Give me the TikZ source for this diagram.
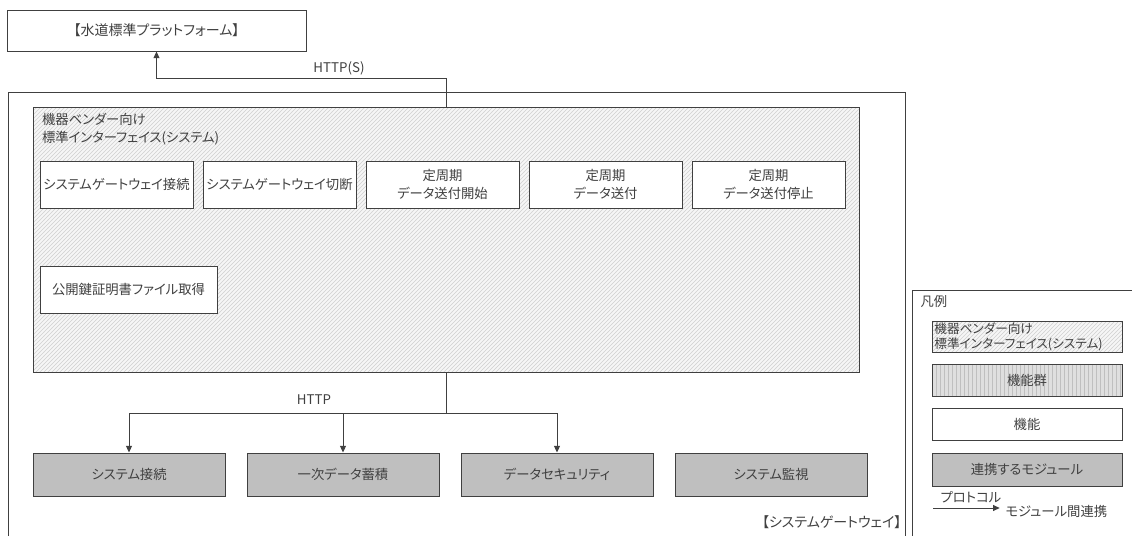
\documentclass[tikz,border=0pt]{standalone}
\usepackage{fontspec}
\setmainfont{Noto Sans CJK JP}[RawFeature=+palt]
\usepackage{tikz}
\usetikzlibrary{positioning, arrows.meta, patterns}
\usepackage{xcolor}
\definecolor{lineC}{RGB}{64, 64, 64}
\definecolor{modC}{RGB}{191, 191, 191}
\definecolor{hatchC}{RGB}{208, 208, 208}

\tikzset{
  func/.style={draw, fill=white, minimum width=114.75pt, minimum height=35.25pt, inner sep=1pt, align=center},
  modbox/.style={draw, fill=modC, minimum width=144pt, minimum height=32.25pt, inner sep=1pt},
  grpbox/.style={draw, preaction={fill=gray!7}, pattern=north east lines, pattern color=hatchC},
  funcgrp/.style={draw, preaction={fill=gray!25}, pattern=vertical lines, pattern color=gray!50},
  legbox/.style={minimum width=142.5pt, minimum height=24pt, inner sep=1pt},
  arr/.style={->, line width=0.75pt}
}

\begin{document}
\begin{tikzpicture}[x=0.75pt, y=-0.75pt, >={Triangle[length=5pt, width=4.5pt]},
    font=\fontsize{10}{13.5}\selectfont, color=lineC, line width=0.75pt]
  \useasboundingbox (0,0) rectangle (1132,536);

  % Platform
  \node[draw, minimum width=224.25pt, minimum height=30.75pt, font=\fontsize{10.5}{12}\selectfont]
    (plat) at (156.5,30.5) {【水道標準プラットフォーム】};

  % System gateway frame
  \draw (8,536) -- (8,92) -- (905,92) -- (905,536);
  \node[anchor=east, inner sep=0pt, font=\fontsize{10.5}{12}\selectfont] (gwlabel) at (902,522) {【システムゲートウェイ】};

  % Interface group
  \node[grpbox, minimum width=619.5pt, minimum height=198.75pt] (grp) at (446,239.5) {};
  \node[anchor=north west, align=left, inner sep=0pt] (grptitle)
    at ([xshift=6.75pt, yshift=-4.5pt]grp.north west) {機器ベンダー向け\\標準インターフェイス(システム)};

  % Functions
  \node[func] (f1) at (116.5,184.5) {システムゲートウェイ接続};
  \node[func, right=6.75pt of f1] (f2) {システムゲートウェイ切断};
  \node[func, right=6.75pt of f2] (f3) {定周期\\データ送付開始};
  \node[func, right=6.75pt of f3] (f4) {定周期\\データ送付};
  \node[func, right=6.75pt of f4] (f5) {定周期\\データ送付停止};
  \node[func, minimum width=132.75pt] (f6) at (128.5,289.5) {公開鍵証明書ファイル取得};

  % Modules
  \node[modbox] (m1) at (129,474.5) {システム接続};
  \node[modbox, right=15.75pt of m1] (m2) {一次データ蓄積};
  \node[modbox, right=15.75pt of m2] (m3) {データセキュリティ};
  \node[modbox, right=15.75pt of m3] (m4) {システム監視};

  % Connections
  \draw[arr] (grp.north) -- ++(0,-28) -| (plat.south);
  \node (https) at (339,68) {HTTP(S)};

  \draw (grp.south) -- ++(0,41) coordinate (bus);
  \draw[arr] (bus) -| (m1.north);
  \draw[arr] (bus) -| (m2.north);
  \draw[arr] (bus) -| (m3.north);
  \node (http) at (314,400) {HTTP};

  % Legend
  \draw (1132,290) -- (912,290) -- (912,536);
  \node[anchor=west, inner sep=0pt] (legtitle) at (920,301) {凡例};
  \node[legbox, grpbox, minimum height=23.25pt, text width=139pt, align=left,
    font=\fontsize{9.5}{11.25}\selectfont] (leg1) at (1027,336.5) {機器ベンダー向け\\標準インターフェイス(システム)};
  \node[legbox, funcgrp] (leg2) at (1027,380) {機能群};
  \node[legbox, draw, fill=white] (leg3) at (1027,424) {機能};
  \node[legbox, draw, fill=modC, minimum height=24.75pt] (leg4) at (1027,469.5) {連携するモジュール};
  \coordinate (lega) at (933,508);
  \node[anchor=west, inner sep=0pt] (leglink) at (1005,511) {モジュール間連携};
  \node (legproto) at (971,497) {プロトコル};
  \draw[arr] (lega) -- ([xshift=-4pt]lega -| leglink.west);
\end{tikzpicture}
\end{document}
